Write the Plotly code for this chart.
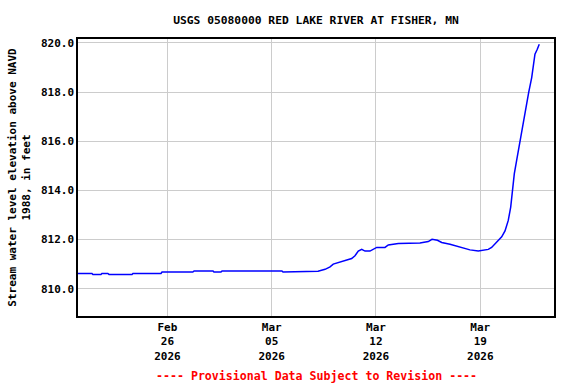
import plotly.graph_objects as go

times = [
    "2026-02-20 00:00", "2026-02-20 22:30", "2026-02-21 00:00", "2026-02-21 13:00",
    "2026-02-21 14:30", "2026-02-22 00:00", "2026-02-22 02:00", "2026-02-23 15:00",
    "2026-02-23 16:30", "2026-02-25 13:40", "2026-02-25 15:20", "2026-02-27 17:00",
    "2026-02-27 19:00", "2026-03-01 01:30", "2026-03-01 03:00", "2026-03-01 14:20",
    "2026-03-01 16:00", "2026-03-05 16:30", "2026-03-05 18:15", "2026-03-07 23:20",
    "2026-03-08 02:40", "2026-03-08 14:00", "2026-03-08 22:00", "2026-03-09 03:10",
    "2026-03-09 14:00", "2026-03-10 00:45", "2026-03-10 08:50", "2026-03-10 14:10",
    "2026-03-10 19:30", "2026-03-11 01:00", "2026-03-11 06:20", "2026-03-11 14:20",
    "2026-03-11 20:50", "2026-03-12 01:10", "2026-03-12 14:30", "2026-03-12 19:50",
    "2026-03-13 12:00", "2026-03-14 22:50", "2026-03-15 12:15", "2026-03-15 18:15",
    "2026-03-16 03:00", "2026-03-16 09:50", "2026-03-16 23:15", "2026-03-17 10:00",
    "2026-03-17 20:40", "2026-03-18 07:25", "2026-03-18 20:50", "2026-03-19 04:50",
    "2026-03-19 12:55", "2026-03-19 18:15", "2026-03-20 02:25", "2026-03-20 10:30",
    "2026-03-20 15:50", "2026-03-20 21:05", "2026-03-21 01:00", "2026-03-21 03:35",
    "2026-03-21 06:50", "2026-03-21 10:35", "2026-03-21 14:20", "2026-03-21 17:35",
    "2026-03-21 21:20", "2026-03-22 01:40", "2026-03-22 06:00", "2026-03-22 10:50",
    "2026-03-22 14:25", "2026-03-22 16:05", "2026-03-22 19:50", "2026-03-22 23:00",
]
levels = [
    810.62, 810.62, 810.58, 810.58,
    810.62, 810.62, 810.58, 810.58,
    810.62, 810.62, 810.68, 810.68,
    810.72, 810.72, 810.68, 810.68,
    810.72, 810.72, 810.68, 810.68,
    810.71, 810.79, 810.89, 811.00,
    811.09, 811.19, 811.23, 811.34,
    811.53, 811.60, 811.53, 811.53,
    811.64, 811.68, 811.68, 811.78,
    811.84, 811.86, 811.92, 812.01,
    811.97, 811.88, 811.81, 811.74,
    811.66, 811.58, 811.53, 811.56,
    811.60, 811.68, 811.91, 812.11,
    812.35, 812.78, 813.32, 814.00,
    814.68, 815.22, 815.76, 816.20,
    816.70, 817.45, 817.99, 818.59,
    819.20, 819.54, 819.74, 819.95,
]

x_tick_vals = ["2026-02-26", "2026-03-05", "2026-03-12", "2026-03-19"]
x_tick_text = ["Feb<br>26<br>2026", "Mar<br>05<br>2026", "Mar<br>12<br>2026", "Mar<br>19<br>2026"]
y_tick_vals = [810, 812, 814, 816, 818, 820]

title = "USGS 05080000 RED LAKE RIVER AT FISHER, MN"
y_title = "Stream water level elevation above NAVD<br>1988, in feet"
footer = "---- Provisional Data Subject to Revision ----"

FONT = "DejaVu Sans Mono"

fig = go.Figure()
fig.add_trace(go.Scatter(x=times, y=levels, mode="lines",
                         line=dict(color="#0000ff", width=1.5), showlegend=False))

fig.update_layout(
    width=576, height=384,
    margin=dict(l=78, r=22, t=39, b=68),
    paper_bgcolor="white", plot_bgcolor="white",
    font=dict(family=FONT, size=11, color="black", weight="bold"),
    title=dict(text=title, x=0.5486, xanchor="center", y=0.948, yanchor="middle",
               font=dict(family=FONT, size=11.3, color="black", weight="bold")),
    xaxis=dict(
        type="date",
        range=["2026-02-20 00:00", "2026-03-23 22:45"],
        tickvals=x_tick_vals, ticktext=x_tick_text,
        showgrid=True, gridcolor="#cccccc", gridwidth=1,
        showline=True, linecolor="black", linewidth=1.5, mirror=True,
        ticks="", zeroline=False,
        tickfont=dict(family=FONT, size=11, color="black", weight="bold"),
    ),
    yaxis=dict(
        range=[808.89, 820.16],
        tickvals=y_tick_vals, tickformat=".1f",
        showgrid=True, gridcolor="#cccccc", gridwidth=1,
        showline=True, linecolor="black", linewidth=1.5, mirror=True,
        ticks="", zeroline=False,
        tickfont=dict(family=FONT, size=11, color="black", weight="bold"),
        title=dict(text=y_title, standoff=8,
                   font=dict(family=FONT, size=11, color="black", weight="bold")),
    ),
    annotations=[
        dict(text=footer, xref="paper", yref="paper", x=0.5, y=-0.215,
             xanchor="center", yanchor="middle", showarrow=False,
             font=dict(family=FONT, size=11.6, color="red", weight="bold")),
    ],
)

fig.write_html("out.html")
